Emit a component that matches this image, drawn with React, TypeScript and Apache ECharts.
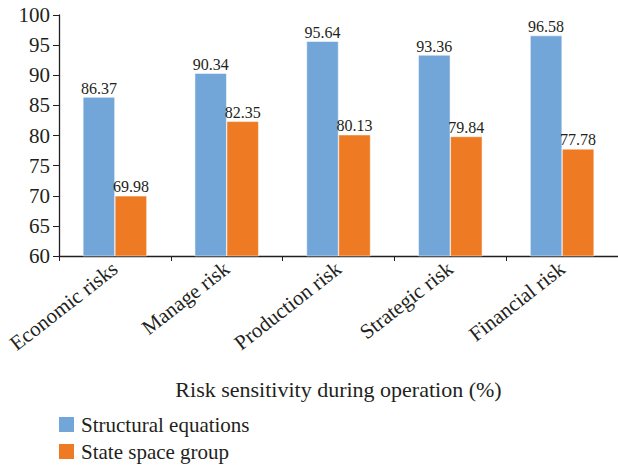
import React, { useEffect, useRef } from "react";
import * as echarts from "echarts";

const categories = ["Economic risks", "Manage risk", "Production risk", "Strategic risk", "Financial risk"];
const structuralEquations = [86.37, 90.34, 95.64, 93.36, 96.58];
const stateSpaceGroup = [69.98, 82.35, 80.13, 79.84, 77.78];
const seriesNames = ["Structural equations", "State space group"];
const xAxisTitle = "Risk sensitivity during operation (%)";

const FONT = "Liberation Serif";
const TEXT = "#231f20";

export default function App() {
  const ref = useRef<HTMLDivElement>(null);

  useEffect(() => {
    if (!ref.current) return;
    const chart = echarts.init(ref.current, undefined, { renderer: "svg" });
    const valueLabel = {
      show: true,
      position: "top" as const,
      distance: 1,
      fontFamily: FONT,
      fontSize: 16,
      color: TEXT,
      formatter: (p: any) => p.value.toFixed(2),
    };
    chart.setOption({
      animation: false,
      textStyle: { fontFamily: FONT, color: TEXT },
      grid: { left: 59, top: 15, bottom: 212, right: -2, containLabel: false },
      legend: {
        orient: "vertical",
        left: 59,
        top: 414,
        height: 60,
        padding: 0,
        icon: "rect",
        itemWidth: 15,
        itemHeight: 15,
        itemGap: 6,
        itemStyle: { borderWidth: 0 },
        textStyle: { fontFamily: FONT, fontSize: 21, color: TEXT, padding: [0, 0, 0, 2] },
        data: seriesNames,
      },
      xAxis: {
        type: "category",
        data: categories,
        name: xAxisTitle,
        nameLocation: "middle",
        nameGap: 122,
        nameTextStyle: { fontFamily: FONT, fontSize: 22, color: TEXT },
        axisLine: { show: true, lineStyle: { color: "#231f20", width: 1.3 } },
        axisTick: { show: true, length: 5, alignWithLabel: false, lineStyle: { color: "#231f20" } },
        axisLabel: {
          rotate: 38,
          interval: 0,
          margin: 10,
          fontFamily: FONT,
          fontSize: 21,
          color: TEXT,
        },
      },
      yAxis: {
        type: "value",
        min: 60,
        max: 100,
        interval: 5,
        splitLine: { show: false },
        axisLine: { show: true, lineStyle: { color: "#231f20", width: 1.3 } },
        axisTick: { show: true, length: 6, lineStyle: { color: "#231f20" } },
        axisLabel: { fontFamily: FONT, fontSize: 21, color: TEXT, margin: 9, align: "right" },
      },
      series: [
        {
          name: seriesNames[0],
          type: "bar",
          data: structuralEquations,
          barWidth: 32,
          barGap: "0%",
          itemStyle: { color: "#72a6d8", borderColor: "#ffffff", borderWidth: 0.5 },
          label: valueLabel,
        },
        {
          name: seriesNames[1],
          type: "bar",
          data: stateSpaceGroup,
          barWidth: 32,
          barGap: "0%",
          itemStyle: { color: "#ee7b23", borderColor: "#ffffff", borderWidth: 0.5 },
          label: valueLabel,
        },
      ],
    });
    return () => chart.dispose();
  }, []);

  return <div ref={ref} style={{ width: 618, height: 468, position: "absolute", left: 0, top: 0 }} />;
}
